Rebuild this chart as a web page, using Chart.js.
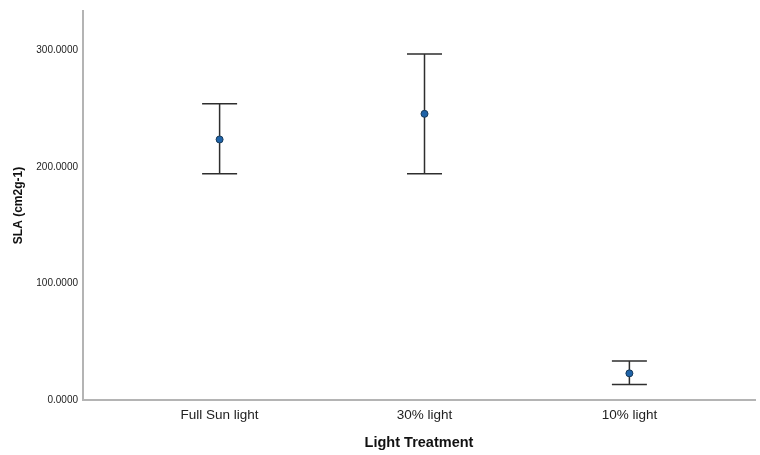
<!DOCTYPE html>
<html>
<head>
<meta charset="utf-8">
<script src="https://cdn.jsdelivr.net/npm/chart.js@4"></script>
<style>
html,body{margin:0;padding:0;background:#fff;}
#wrap{width:760px;height:455px;position:relative;}
</style>
</head>
<body>
<div id="wrap"><canvas id="c" width="760" height="455"></canvas></div>
<script>
const categories = ['Full Sun light', '30% light', '10% light'];
const means = [223.7, 245.7, 22.9];
const upper = [254.3, 297.1, 33.4];
const lower = [194.3, 194.3, 13.4];
const yTicks = [0, 100, 200, 300];

const points = categories.map((c, i) => ({x: i + 1, y: means[i]}));

const errorBars = {
  id: 'errorBars',
  beforeDatasetsDraw(chart) {
    const ctx = chart.ctx, xs = chart.scales.x, ys = chart.scales.y;
    ctx.save();
    ctx.strokeStyle = '#2e2e2e';
    ctx.lineWidth = 1.5;
    const half = 17.5;
    categories.forEach((c, i) => {
      const px = xs.getPixelForValue(i + 1);
      const pt = ys.getPixelForValue(upper[i]);
      const pb = ys.getPixelForValue(lower[i]);
      ctx.beginPath();
      ctx.moveTo(px, pt); ctx.lineTo(px, pb);
      ctx.moveTo(px - half, pt); ctx.lineTo(px + half, pt);
      ctx.moveTo(px - half, pb); ctx.lineTo(px + half, pb);
      ctx.stroke();
    });
    ctx.restore();
  }
};

new Chart(document.getElementById('c'), {
  type: 'scatter',
  data: {
    datasets: [{
      data: points,
      pointRadius: 3.5,
      pointBackgroundColor: '#1f63a8',
      pointBorderColor: '#183a5a',
      pointBorderWidth: 1
    }]
  },
  options: {
    responsive: false,
    animation: false,
    layout: {padding: {top: 10, right: 1, left: 0, bottom: 0}},
    plugins: {legend: {display: false}, tooltip: {enabled: false}},
    scales: {
      x: {
        type: 'linear',
        min: 0.3333,
        max: 3.613,
        afterBuildTicks(s) { s.ticks = categories.map((c, i) => ({value: i + 1})); },
        afterFit(s) { s.height = 55; },
        grid: {display: false, drawTicks: false},
        border: {color: '#b4b4b4', width: 2},
        ticks: {
          padding: 7,
          color: '#222',
          font: {family: 'Arial, "Liberation Sans", sans-serif', size: 13.5},
          callback: (v) => categories[v - 1] || ''
        },
        title: {
          display: true,
          text: 'Light Treatment',
          color: '#111',
          padding: {top: 0, bottom: 3},
          font: {family: 'Arial, "Liberation Sans", sans-serif', size: 14.5, weight: 'bold'}
        }
      },
      y: {
        min: 0,
        max: 334,
        afterBuildTicks(s) { s.ticks = yTicks.map(v => ({value: v})); },
        afterFit(s) { s.width = 83; },
        grid: {display: false, drawTicks: false},
        border: {color: '#b4b4b4', width: 2},
        ticks: {
          padding: 5,
          color: '#222',
          font: {family: 'Arial, "Liberation Sans", sans-serif', size: 10},
          callback: (v) => Number(v).toFixed(4)
        },
        title: {
          display: true,
          text: 'SLA (cm2g-1)',
          color: '#111',
          padding: {top: 11, bottom: 0},
          font: {family: 'Arial, "Liberation Sans", sans-serif', size: 12, weight: 'bold'}
        }
      }
    }
  },
  plugins: [errorBars]
});
</script>
</body>
</html>
